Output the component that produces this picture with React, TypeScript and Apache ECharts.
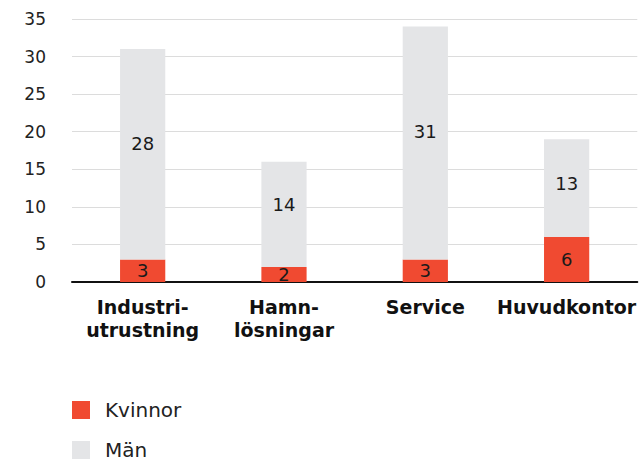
import React, { useEffect, useRef } from "react";
import * as echarts from "echarts";

const categories = ["Industri-\nutrustning", "Hamn-\nlösningar", "Service", "Huvudkontor"];
const kvinnor = [3, 2, 3, 6];
const man = [28, 14, 31, 13];
const seriesNames = ["Kvinnor", "Män"];

const FONT = "DejaVu Sans, Verdana, sans-serif";
const manLabelShift = [-11, -10, -11, -5];

export default function App() {
  const ref = useRef<HTMLDivElement>(null);
  useEffect(() => {
    const chart = echarts.init(ref.current!, null, { renderer: "svg" });
    const legendBase = {
      orient: "vertical",
      left: 72,
      padding: 0,
      itemWidth: 18,
      itemHeight: 18,
      icon: "rect",
      textStyle: { fontFamily: FONT, fontSize: 20, lineHeight: 18, color: "#222", padding: [0, 0, 0, 10] },
    };
    chart.setOption({
      animation: false,
      textStyle: { fontFamily: FONT },
      grid: { left: 72, right: 0, top: 19, bottom: 179, containLabel: false },
      legend: [
        { ...legendBase, top: 400, data: [seriesNames[0]] },
        { ...legendBase, top: 440, data: [seriesNames[1]] },
      ],
      xAxis: {
        type: "category",
        data: categories,
        axisLine: { lineStyle: { color: "#111", width: 2 } },
        axisTick: { show: false },
        axisLabel: {
          interval: 0,
          fontFamily: FONT,
          fontSize: 19,
          fontWeight: "bold",
          color: "#111",
          margin: 13,
          lineHeight: 23,
        },
      },
      yAxis: {
        type: "value",
        min: 0,
        max: 35,
        interval: 5,
        axisLine: { show: false },
        axisTick: { show: false },
        splitLine: { lineStyle: { color: "#dcdcdc", width: 1 } },
        axisLabel: { fontFamily: FONT, fontSize: 17, color: "#222", margin: 26 },
      },
      series: [
        {
          name: seriesNames[0],
          type: "bar",
          stack: "a",
          data: kvinnor,
          barWidth: "32%",
          itemStyle: { color: "#f04a31" },
          label: { show: true, position: "inside", fontFamily: FONT, fontSize: 18, color: "#1a1a1a" },
        },
        {
          name: seriesNames[1],
          type: "bar",
          stack: "a",
          data: man.map((v, i) => ({ value: v, label: { offset: [0, manLabelShift[i]] } })),
          barWidth: "32%",
          itemStyle: { color: "#e4e5e7" },
          label: { show: true, position: "inside", fontFamily: FONT, fontSize: 18, color: "#1a1a1a" },
        },
      ],
    });
    return () => chart.dispose();
  }, []);
  return <div ref={ref} style={{ width: 639, height: 461, position: "absolute", left: 0, top: 0 }} />;
}
